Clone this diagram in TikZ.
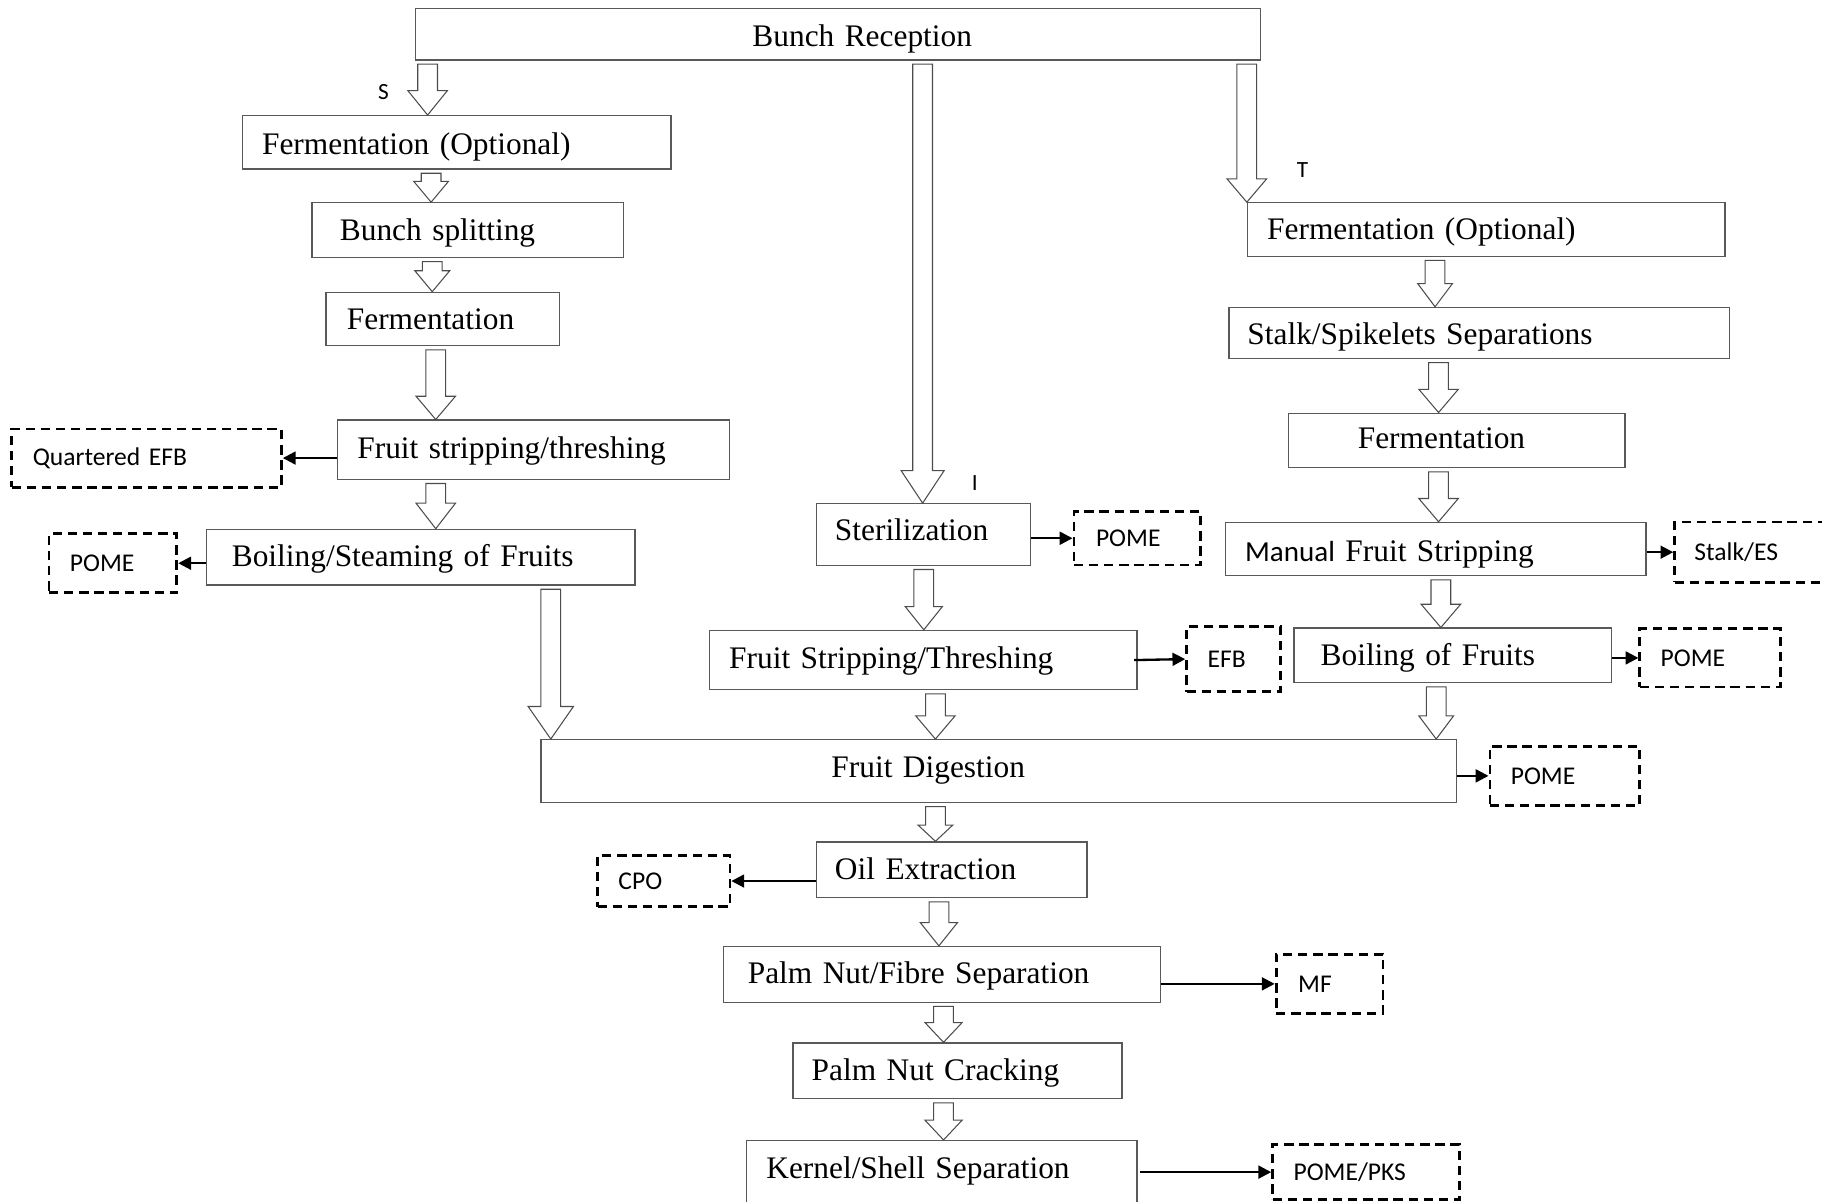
\documentclass[tikz,border=0pt]{standalone}
\usepackage{fontspec}
\setmainfont{Liberation Serif}
\newfontfamily\sansf{Carlito}
\usetikzlibrary{calc,arrows.meta}
\tikzset{
  pbox/.style={draw=black!65, line width=1.1pt, inner xsep=0pt, inner ysep=0pt,
    align=left, anchor=north west, font=\fontsize{27}{30}\selectfont, text depth=6pt},
  dbox/.style={draw=black, line width=2.4pt, dash pattern=on 8pt off 5pt,
    inner xsep=0pt, inner ysep=0pt, align=left, anchor=north west,
    font=\sansf\fontsize{22}{25}\selectfont},
  outarr/.style={draw=black, line width=2pt, -{Triangle[length=11pt,width=11pt]}},
  barrow/.style={draw=black!70, line width=0.9pt, fill=white},
  lbl/.style={font=\sansf\fontsize{20}{22}\selectfont, inner sep=0pt}
}
% block arrow: #1 head length, #2 head half width, #3 x, #4 from node, #5 to node
\newcommand\blockarr[5]{%
  \draw[barrow] let \p1=(#3,0 |- #4.south), \p2=(#3,0 |- #5.north) in
    (\x1-8.5pt,\y1-3pt) -- (\x1-8.5pt,\y2+#1pt) -- (\x1-#2pt,\y2+#1pt) -- (\x1,\y2)
    -- (\x1+#2pt,\y2+#1pt) -- (\x1+8.5pt,\y2+#1pt) -- (\x1+8.5pt,\y1-3pt) -- cycle;}
\begin{document}
\begin{tikzpicture}[x=1pt,y=-1pt]
\useasboundingbox (0,0) rectangle (1568,1034);

% ---- process boxes ----
\node[pbox, text width=727pt, minimum height=44pt, text height=26.5pt] (rec) at (357,7) {\hspace*{290pt}Bunch Reception};
% left branch
\node[pbox, text width=369pt, minimum height=46pt, text height=26.5pt] (sFerm) at (208,99) {\hspace*{17pt}Fermentation (Optional)};
\node[pbox, text width=268pt, minimum height=47pt, text height=24.5pt] (sSplit) at (268,174) {\hspace*{24pt}Bunch splitting};
\node[pbox, text width=201pt, minimum height=46pt, text height=24.5pt] (sFerm2) at (280,251) {\hspace*{18pt}Fermentation};
\node[pbox, text width=337pt, minimum height=51pt, text height=20.5pt] (sStrip) at (290,361) {\hspace*{17pt}Fruit stripping/threshing};
\node[pbox, text width=369pt, minimum height=48pt, text height=22.5pt] (sBoil) at (177,455) {\hspace*{22pt}Boiling/Steaming of Fruits};
% middle branch
\node[pbox, text width=184pt, minimum height=53pt, text height=17pt] (ster) at (702,433) {\hspace*{16pt}Sterilization};
\node[pbox, text width=368pt, minimum height=51pt, text height=20.5pt] (iStrip) at (610,542) {\hspace*{17pt}Fruit Stripping/Threshing};
% right branch
\node[pbox, text width=411pt, minimum height=46pt, text height=22.5pt] (tFerm) at (1073,174) {\hspace*{17pt}Fermentation (Optional)};
\node[pbox, text width=431pt, minimum height=44pt, text height=26.5pt] (tStalk) at (1057,264) {\hspace*{16pt}Stalk/Spikelets Separations};
\node[pbox, text width=290pt, minimum height=47pt, text height=20.5pt] (tFerm2) at (1108,355) {\hspace*{60pt}Fermentation};
\node[pbox, text width=362pt, minimum height=46pt, text height=26.5pt] (tManual) at (1054,449) {\hspace*{17pt}{\sansf\fontsize{25}{28}\selectfont Manual} Fruit Stripping};
\node[pbox, text width=273pt, minimum height=47pt, text height=22.5pt] (tBoil) at (1113,540) {\hspace*{23pt}Boiling of Fruits};
% common trunk
\node[pbox, text width=788pt, minimum height=54pt, text height=16.5pt] (dig) at (465,636) {\hspace*{250pt}Fruit Digestion};
\node[pbox, text width=233pt, minimum height=48pt, text height=22.5pt] (oil) at (702,724) {\hspace*{16pt}Oil Extraction};
\node[pbox, text width=376pt, minimum height=48pt, text height=22.5pt] (pnf) at (622,814) {\hspace*{21pt}Palm Nut/Fibre Separation};
\node[pbox, text width=283pt, minimum height=48pt, text height=22.5pt] (pnc) at (682,897) {\hspace*{16pt}Palm Nut Cracking};
\node[pbox, text width=336pt, text height=33pt, text depth=40pt] (ks) at (642,981) {\hspace*{17pt}Kernel/Shell Separation};

% ---- by-product boxes ----
\node[dbox, text width=232pt, minimum height=50pt] (qefb) at (9,368) {\hspace*{18pt}Quartered EFB};
\node[dbox, text width=110pt, minimum height=51pt] (pome1) at (41,458) {\hspace*{18pt}POME};
\node[dbox, text width=109pt, minimum height=46pt] (pome2) at (923,439) {\hspace*{19pt}POME};
\node[dbox, text width=81pt, minimum height=56pt] (efb) at (1020,538) {\hspace*{18pt}EFB};
\node[dbox, text width=150pt, minimum height=52pt] (stalkes) at (1440,448) {\hspace*{17pt}Stalk/ES};
\node[dbox, text width=121pt, minimum height=50pt] (pome3) at (1410,540) {\hspace*{18pt}POME};
\node[dbox, text width=129pt, minimum height=51pt] (pome4) at (1281,641) {\hspace*{18pt}POME};
\node[dbox, text width=114pt, minimum height=44pt] (cpo) at (513,735) {\hspace*{18pt}CPO};
\node[dbox, text width=92pt, minimum height=51pt] (mf) at (1097,820) {\hspace*{19pt}MF};
\node[dbox, text width=161pt, minimum height=47pt] (pomepks) at (1094,984) {\hspace*{18pt}POME/PKS};

% ---- labels ----
\node[lbl] (lS) at (330,79) {S};
\node[lbl] (lT) at (1121,146) {T};
\node[lbl] (lI) at (839,416) {I};

% ---- block arrows ----
\blockarr{21}{17}{368}{rec}{sFerm}
\blockarr{18}{15}{371}{sFerm}{sSplit}
\blockarr{18}{15}{372}{sSplit}{sFerm2}
\blockarr{20}{17}{375}{sFerm2}{sStrip}
\blockarr{22}{17}{375}{sStrip}{sBoil}
\blockarr{28}{19.5}{474}{sBoil}{dig}
\blockarr{28}{18.5}{794}{rec}{ster}
\blockarr{20}{16}{795}{ster}{iStrip}
\blockarr{20}{17}{805}{iStrip}{dig}
\blockarr{20}{17}{1073}{rec}{tFerm}
\blockarr{20}{15}{1235}{tFerm}{tStalk}
\blockarr{20}{17}{1238}{tStalk}{tFerm2}
\blockarr{20}{17}{1238}{tFerm2}{tManual}
\blockarr{20}{17}{1240}{tManual}{tBoil}
\blockarr{20}{15}{1236}{tBoil}{dig}
\blockarr{14}{15}{805}{dig}{oil}
\blockarr{20}{16}{808}{oil}{pnf}
\blockarr{17}{16}{812}{pnf}{pnc}
\blockarr{17}{16}{812}{pnc}{ks}

% ---- output arrows ----
\draw[outarr] (qefb.east -| sStrip.west) -- (qefb.east);
\draw[outarr] (pome1.east -| sBoil.west) -- (pome1.east);
\draw[outarr] (pome2.west -| ster.east) -- (pome2.west);
\draw[outarr] ([xshift=-3pt]iStrip.east) -- (efb.west);
\draw[outarr] (stalkes.west -| tManual.east) -- (stalkes.west);
\draw[outarr] (pome3.west -| tBoil.east) -- (pome3.west);
\draw[outarr] (pome4.west -| dig.east) -- (pome4.west);
\draw[outarr] (cpo.east -| oil.west) -- (cpo.east);
\draw[outarr] (mf.west -| pnf.east) -- (mf.west);
\draw[outarr, shorten <=2pt] (pomepks.west -| ks.east) -- (pomepks.west);
\end{tikzpicture}
\end{document}
